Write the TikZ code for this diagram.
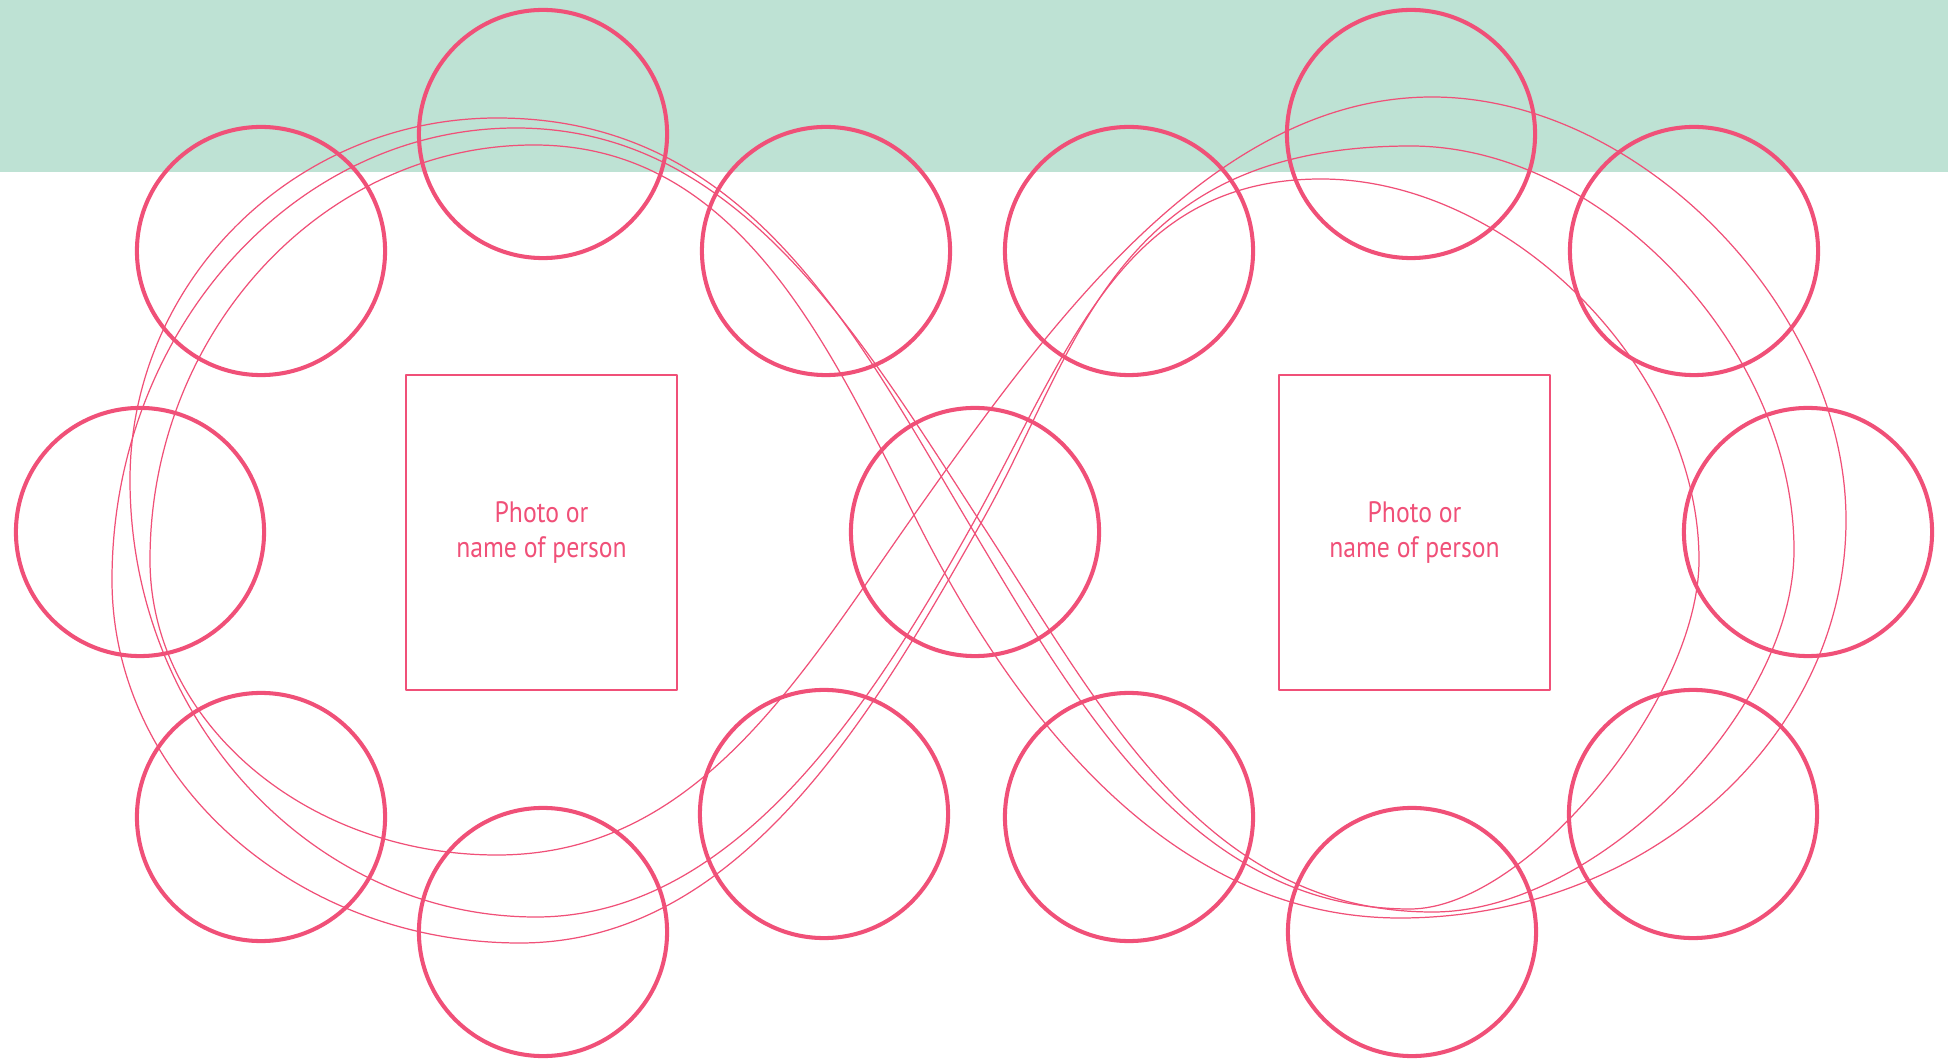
\documentclass[tikz,border=0pt]{standalone}
\usepackage{fontspec}
\newfontfamily\photofont[FakeStretch=0.87]{PT Sans}
\definecolor{rosepink}{HTML}{F05078}
\definecolor{mintband}{HTML}{BEE2D4}

\begin{document}
\begin{tikzpicture}[x=0.01cm,y=-0.01cm,line join=round,line cap=round,
    seat/.style={draw=rosepink,line width=1.15pt,circle,minimum size=2.48cm,inner sep=0pt},
    photobox/.style={draw=rosepink,line width=0.6pt,minimum width=2.7cm,minimum height=3.15cm,
      inner sep=0pt,align=center,text=rosepink,font={\photofont\fontsize{8.4}{9.7}\selectfont}},
    infinity/.style={draw=rosepink,line width=0.35pt}]
\useasboundingbox (0,0) rectangle (1948,1061);
\fill[mintband] (0,0) rectangle (1948,172);

% three loose infinity loops
\draw[infinity] (534,145) .. controls (734,145) and (825,336) .. (914,515)
  .. controls (1039,765) and (1200,918) .. (1400,918)
  .. controls (1645,918) and (1846,739) .. (1846,520)
  .. controls (1846,308) and (1639,97) .. (1432,97)
  .. controls (1212,97) and (1047,327) .. (914,515)
  .. controls (799,678) and (697,855) .. (497,855)
  .. controls (306,855) and (150,722) .. (150,560)
  .. controls (150,332) and (323,145) .. (534,145);
\draw[infinity] (497,118) .. controls (747,118) and (853,329) .. (971,527)
  .. controls (1074,699) and (1190,909) .. (1410,909)
  .. controls (1526,909) and (1699,700) .. (1699,560)
  .. controls (1699,369) and (1510,179) .. (1321,179)
  .. controls (1121,179) and (1069,352) .. (971,527)
  .. controls (873,702) and (736,917) .. (536,917)
  .. controls (313,917) and (130,720) .. (130,480)
  .. controls (130,281) and (295,118) .. (497,118);
\draw[infinity] (516,128) .. controls (736,128) and (856,330) .. (981,523)
  .. controls (1101,707) and (1203,912) .. (1433,912)
  .. controls (1595,912) and (1794,713) .. (1794,550)
  .. controls (1794,348) and (1603,146) .. (1411,146)
  .. controls (1111,146) and (1080,349) .. (981,523)
  .. controls (873,714) and (740,943) .. (520,943)
  .. controls (296,943) and (112,780) .. (112,580)
  .. controls (112,331) and (294,128) .. (516,128);

% seats round the two photos
\foreach \name/\x/\y in {lt/543/134, lul/261/251, lur/826/251, ll/140/532, mid/975/532,
    lll/261/817, lb/543/932, llr/824/814, rt/1411/134, rul/1129/251, rur/1694/251,
    rr/1808/532, rll/1129/817, rb/1412/932, rlr/1693/814}
  \node[seat] (\name) at (\x,\y) {};

\node[photobox] (photoL) at (541.5,532.5) {Photo or\\name of person};
\node[photobox] (photoR) at (1414.5,532.5) {Photo or\\name of person};
\end{tikzpicture}
\end{document}
